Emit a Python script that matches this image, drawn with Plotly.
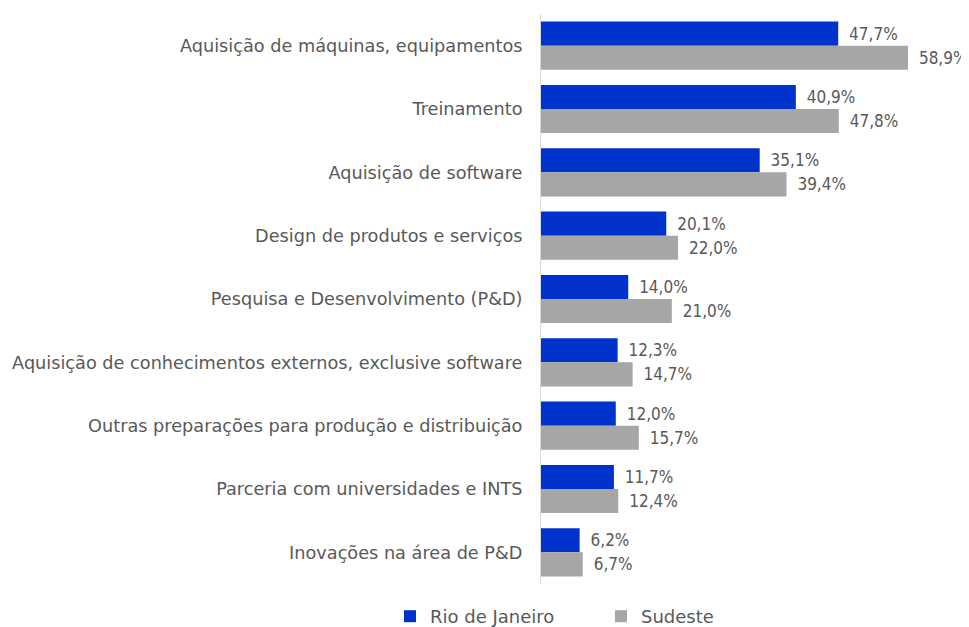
import plotly.graph_objects as go

categories = [
    "Aquisição de máquinas, equipamentos",
    "Treinamento",
    "Aquisição de software",
    "Design de produtos e serviços",
    "Pesquisa e Desenvolvimento (P&D)",
    "Aquisição de conhecimentos externos, exclusive software",
    "Outras preparações para produção e distribuição",
    "Parceria com universidades e INTS",
    "Inovações na área de P&D",
]
rio = [47.7, 40.9, 35.1, 20.1, 14.0, 12.3, 12.0, 11.7, 6.2]
sudeste = [58.9, 47.8, 39.4, 22.0, 21.0, 14.7, 15.7, 12.4, 6.7]
series_names = ["Rio de Janeiro", "Sudeste"]

def fmt(v):
    return "\u00a0\u2009" + f"{v:.1f}%".replace(".", ",")

FONT = "DejaVu Sans"
TXT = "#595959"
LBL = dict(family="DejaVu Sans Condensed, DejaVu Sans", size=17, color=TXT)

fig = go.Figure()
fig.add_trace(go.Bar(
    y=categories, x=rio, orientation="h", name=series_names[0],
    marker=dict(color="#0033CC", line=dict(width=0)),
    text=[fmt(v) for v in rio], textposition="outside",
    textfont=LBL, cliponaxis=False,
))
fig.add_trace(go.Bar(
    y=categories, x=sudeste, orientation="h", name=series_names[1],
    marker=dict(color="#A6A6A6", line=dict(width=0)),
    text=[fmt(v) for v in sudeste], textposition="outside",
    textfont=LBL, cliponaxis=False,
))

# page body has an 8px margin: figure is sized/offset to compensate
fig.update_layout(
    width=961, height=619,
    margin=dict(l=533, r=23, t=6, b=43, autoexpand=False),
    barmode="group", bargap=0.24, bargroupgap=0,
    paper_bgcolor="white", plot_bgcolor="white",
    font=dict(family=FONT, size=15, color=TXT),
    showlegend=True,
    legend=dict(orientation="h", xref="paper", yref="paper",
                x=-0.3728, xanchor="left", y=-0.057, yanchor="middle",
                font=dict(family=FONT, size=18, color=TXT), traceorder="normal",
                itemwidth=30, entrywidthmode="pixels", entrywidth=166),
)
fig.update_xaxes(range=[0, 65], visible=False)
fig.update_yaxes(autorange="reversed", showline=True, linecolor="#D9D9D9", linewidth=1,
                 ticks="", ticklabelstandoff=14, showgrid=False, automargin=False,
                 tickfont=dict(family=FONT, size=17.7, color=TXT))

fig.write_html("out.html")
